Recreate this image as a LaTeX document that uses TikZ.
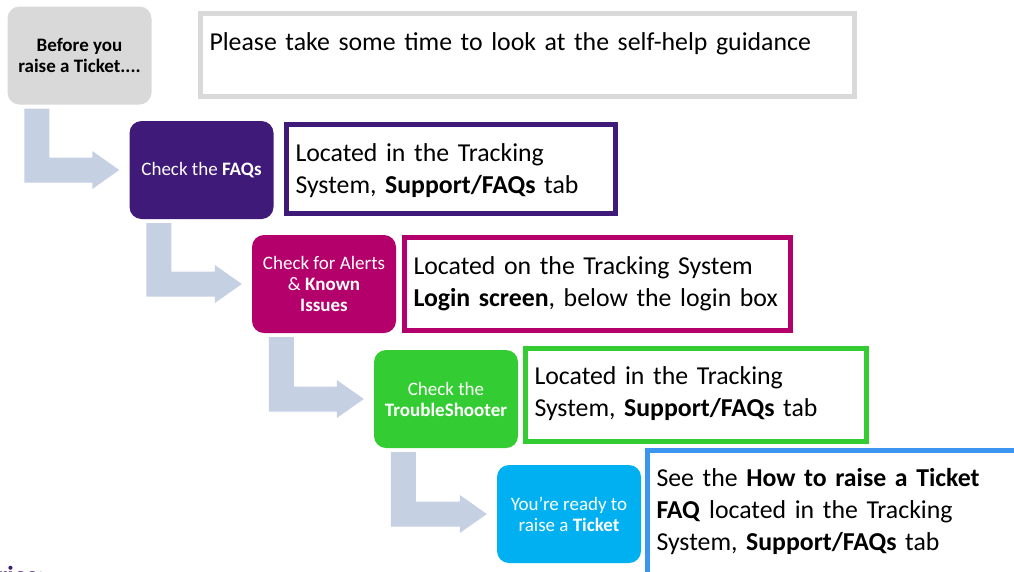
\documentclass[tikz,border=0pt]{standalone}
\usepackage{fontspec}
\setmainfont{Carlito}
\usetikzlibrary{calc}

\definecolor{stepgray}{HTML}{D9D9D9}
\definecolor{faqpurple}{HTML}{3F1A78}
\definecolor{alertmagenta}{HTML}{B4006B}
\definecolor{shootgreen}{HTML}{33CC33}
\definecolor{ticketcyan}{HTML}{00B0F0}
\definecolor{ticketblue}{HTML}{3C96F0}
\definecolor{arrowblue}{HTML}{C5D0E3}

\tikzset{
  stepbox/.style={rounded corners=12pt, minimum width=144pt, minimum height=98pt,
    inner sep=0pt, align=center, text=white, font=\fontsize{19}{21}\selectfont},
  infobox/.style={draw=#1, line width=5pt, anchor=north west, inner xsep=9pt,
    inner ysep=0pt, align=left, font=\fontsize{25.8}{32}\selectfont},
  steparrow/.style={fill=arrowblue},
}

% L-shaped block arrow from one step down to the next
\newcommand{\stepjoin}[2]{%
  \fill[steparrow] let \p1=($(#1.south west)+(17pt,-4pt)$), \p2=(#2.west) in
    (\x1,\y1) -- (\x1+25pt,\y1) -- (\x1+25pt,\y2+12.5pt) -- (\x2-37pt,\y2+12.5pt)
    -- (\x2-37pt,\y2+19pt) -- (\x2-10pt,\y2) -- (\x2-37pt,\y2-19pt)
    -- (\x2-37pt,\y2-12.5pt) -- (\x1,\y2-12.5pt) -- cycle;}

\begin{document}
\begin{tikzpicture}[x=1pt, y=-1pt]
  \useasboundingbox (0,0) rectangle (1014,571);

  % Steps
  \node[stepbox, fill=stepgray, text=black, font=\fontsize{19}{21}\selectfont\bfseries] (s0) at (79.5,55.5) {Before you\\raise a Ticket....};
  \node[stepbox, fill=faqpurple] (s1) at (201.5,170) {Check the \textbf{FAQs}};
  \node[stepbox, fill=alertmagenta] (s2) at (324,284) {Check for Alerts\\\& \textbf{Known}\\\textbf{Issues}};
  \node[stepbox, fill=shootgreen] (s3) at (446,399) {Check the\\\textbf{TroubleShooter}};
  \node[stepbox, fill=ticketcyan] (s4) at (569,514) {You’re ready to\\raise a \textbf{Ticket}};

  % Guidance boxes
  \node[infobox=stepgray, text width=636pt, text height=36.5pt, text depth=46.5pt] (g0) at (198,11)
    {Please take some time to look at the self-help guidance};
  \node[infobox=faqpurple, text width=311pt, text height=36.5pt, text depth=52.5pt] (g1) at (284,122)
    {Located in the Tracking\\System, \textbf{Support/FAQs} tab};
  \node[infobox=alertmagenta, text width=368pt, text height=36.5pt, text depth=56.5pt] (g2) at (402,235)
    {Located on the Tracking System\\\textbf{Login screen}, below the login box};
  \node[infobox=shootgreen, text width=323pt, text height=35.5pt, text depth=57.5pt] (g3) at (523,346)
    {Located in the Tracking\\System, \textbf{Support/FAQs} tab};
  \node[infobox=ticketblue, text width=362pt, text height=35.5pt, text depth=112.5pt] (g4) at (645,448)
    {See the \textbf{How to raise a Ticket}\\\textbf{FAQ} located in the Tracking\\System, \textbf{Support/FAQs} tab};

  % Arrows
  \stepjoin{s0}{s1}
  \stepjoin{s1}{s2}
  \stepjoin{s2}{s3}
  \stepjoin{s3}{s4}

  \node[font=\fontsize{26}{31}\selectfont\bfseries, text=faqpurple, anchor=base west, inner sep=0pt] (cat) at (-2,584) {ries:};
\end{tikzpicture}
\end{document}
